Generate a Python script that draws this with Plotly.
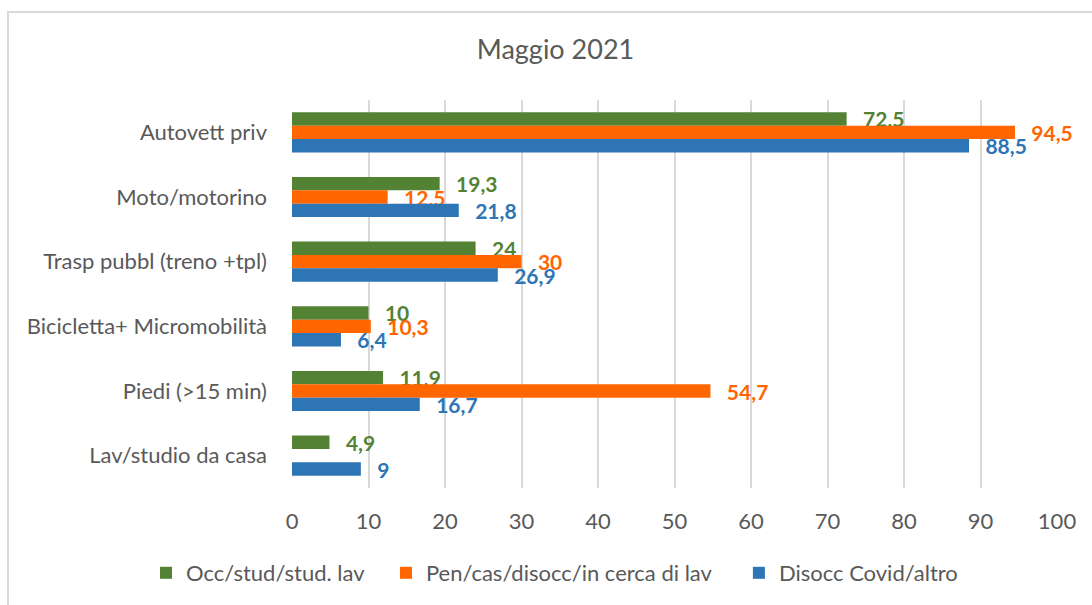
import plotly.graph_objects as go

categories = ["Autovett priv", "Moto/motorino", "Trasp pubbl (treno +tpl)",
              "Bicicletta+ Micromobilità", "Piedi (>15 min)", "Lav/studio da casa"]
series_names = ["Occ/stud/stud. lav", "Pen/cas/disocc/in cerca di lav", "Disocc Covid/altro"]
occ = [72.5, 19.3, 24, 10, 11.9, 4.9]
pen = [94.5, 12.5, 30, 10.3, 54.7, None]
dis = [88.5, 21.8, 26.9, 6.4, 16.7, 9]
colors = ["#548235", "#FF6600", "#2E75B6"]
legend_pad = [3, 4, 0]  # extra spacing after legend entries

def fmt(v):
    if v is None:
        return ""
    return ("%g" % v).replace(".", ",")

fig = go.Figure()
for name, vals, col, pad in zip(series_names, [occ, pen, dis], colors, legend_pad):
    fig.add_trace(go.Bar(
        y=categories, x=vals, orientation="h", name=name + "\u00a0" * pad,
        marker=dict(color=col, line=dict(width=0)),
        text=[fmt(v) for v in vals], textposition="outside",
        textfont=dict(family="Lato", size=21, color=col),
        texttemplate="\u00a0\u00a0\u2009<b>%{text}</b>",
        constraintext="none",
        cliponaxis=False,
    ))

W, H = 1092, 605
L, R, T, B = 292, 1092 - 1057, 100, 605 - 488
pw, ph = W - L - R, H - T - B

fig.update_layout(
    width=W, height=H,
    paper_bgcolor="white", plot_bgcolor="white",
    barmode="group", bargap=0.38, bargroupgap=0,
    margin=dict(l=L, r=R, t=T, b=B, autoexpand=False),
    font=dict(family="Lato", color="#595959"),
    title=dict(text="Maggio 2021", xref="paper", x=(555.5 - L) / pw, xanchor="center",
               y=1 - 50 / H, yanchor="middle",
               font=dict(size=27, color="#595959", family="Lato")),
    xaxis=dict(range=[0, 100], dtick=10, showgrid=True, gridcolor="#D9D9D9", gridwidth=1.5,
               zeroline=False, showline=False, ticks="", tickfont=dict(size=22, color="#595959"),
               ticklabelstandoff=18),
    yaxis=dict(categoryorder="array", categoryarray=categories, autorange="reversed",
               showgrid=False, showline=False, ticks="", tickfont=dict(size=22, color="#595959"),
               ticklabelstandoff=24),
    legend=dict(orientation="h", xref="paper", x=(146 - L) / pw, xanchor="left",
                y=-(573 - 488) / ph, yanchor="middle",
                font=dict(size=22, color="#595959"), traceorder="normal"),
)
fig.add_shape(type="rect", xref="paper", yref="paper",
              x0=(8 - L) / pw, x1=1.2, y0=-0.6, y1=1 + (T - 12) / ph,
              line=dict(color="#D9D9D9", width=2), fillcolor="rgba(0,0,0,0)", layer="below")
fig.write_html("out.html", config={"displayModeBar": False},
               post_script="document.body.style.margin='0';document.body.style.overflow='hidden';")
